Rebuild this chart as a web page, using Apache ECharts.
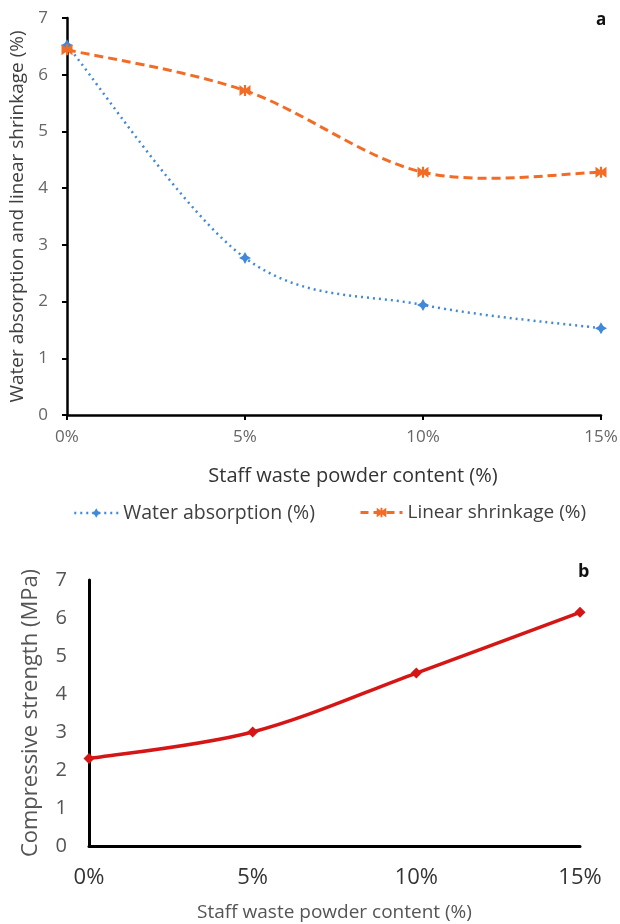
<!DOCTYPE html>
<html>
<head>
<meta charset="utf-8">
<script src="https://cdn.jsdelivr.net/npm/echarts@6/dist/echarts.min.js"></script>
<style>
html,body{margin:0;padding:0;background:#fff;}
#chart{width:620px;height:924px;}
</style>
</head>
<body>
<div id="chart"></div>
<script>
const categories = ['0%', '5%', '10%', '15%'];
const waterAbsorption = [6.52, 2.77, 1.94, 1.53];
const linearShrinkage = [6.44, 5.72, 4.28, 4.28];
const compressiveStrength = [2.3, 3.0, 4.55, 6.15];
const xTitle = 'Staff waste powder content (%)';
const yTitleA = 'Water absorption and linear shrinkage (%)';
const yTitleB = 'Compressive strength (MPa)';

const FONT = '"Open Sans"';
const blue = '#4189D8';
const orange = '#F36C25';
const red = '#D61515';
const starPath = 'path://M5,0 L6.8,3.2 L10,5 L6.8,6.8 L5,10 L3.2,6.8 L0,5 L3.2,3.2 Z';
const bowPath = 'path://M0,0 L4,3 L4,0 L6,0 L6,3 L10,0 L10,10 L6,7 L6,10 L4,10 L4,7 L0,10 Z';

// Spreadsheet-style smoothed curve (Bezier tangents = (next - prev) / 6), positioned via api.coord
function smoothCurve(values, lineStyle) {
  return function (params, api) {
    if (params.dataIndex !== 0) return null;
    const pts = values.map((v, i) => api.coord([i, v]));
    let d = 'M' + pts[0][0] + ',' + pts[0][1];
    for (let i = 0; i < pts.length - 1; i++) {
      const p0 = pts[i - 1] || pts[i];
      const p1 = pts[i];
      const p2 = pts[i + 1];
      const p3 = pts[i + 2] || pts[i + 1];
      const c1x = p1[0] + (p2[0] - p0[0]) / 6, c1y = p1[1] + (p2[1] - p0[1]) / 6;
      const c2x = p2[0] - (p3[0] - p1[0]) / 6, c2y = p2[1] - (p3[1] - p1[1]) / 6;
      d += ' C' + c1x + ',' + c1y + ' ' + c2x + ',' + c2y + ' ' + p2[0] + ',' + p2[1];
    }
    return {
      type: 'path',
      shape: {pathData: d},
      style: Object.assign({fill: 'none'}, lineStyle),
      silent: true
    };
  };
}
function pairs(values) { return values.map((v, i) => [i, v]); }

const chart = echarts.init(document.getElementById('chart'), null, {renderer: 'canvas'});
chart.setOption({
  animation: false,
  backgroundColor: '#fff',
  textStyle: {fontFamily: FONT},
  grid: [
    {left: 67, right: 19, top: 18, bottom: 509, containLabel: false, outerBoundsMode: 'none'},
    {left: 89, right: 40, top: 580, bottom: 78, containLabel: false, outerBoundsMode: 'none'}
  ],
  legend: [
    {
      left: 68, top: 498, itemWidth: 44, itemHeight: 12,
      data: [{name: 'Water absorption (%)', lineStyle: {color: blue, width: 2.5, type: [2, 4], opacity: 1}}],
      textStyle: {fontFamily: FONT, fontSize: 19.5, color: '#404040'}
    },
    {
      left: 354, top: 498, itemWidth: 42, itemHeight: 12,
      data: [{name: 'Linear shrinkage (%)', lineStyle: {color: orange, width: 3, type: [8, 5], opacity: 1}}],
      textStyle: {fontFamily: FONT, fontSize: 19, color: '#404040'}
    }
  ],
  graphic: [
    {type: 'text', left: 596, top: 12, style: {text: 'a', font: 'bold 17px ' + FONT, fill: '#111'}},
    {type: 'text', left: 578, top: 563, style: {text: 'b', font: 'bold 18px ' + FONT, fill: '#111'}}
  ],
  xAxis: [
    {
      gridIndex: 0, type: 'category', data: categories, boundaryGap: false,
      axisLine: {lineStyle: {color: '#000', width: 2.5}},
      axisTick: {show: true, inside: false, length: 5, alignWithLabel: true, lineStyle: {color: '#000', width: 2}},
      axisLabel: {color: '#666', fontSize: 17, fontFamily: FONT, margin: 14},
      name: xTitle, nameLocation: 'middle', nameGap: 51,
      nameTextStyle: {color: '#333', fontSize: 20, fontFamily: FONT, padding: [0, 0, 0, 38]}
    },
    {
      gridIndex: 1, type: 'category', data: categories, boundaryGap: false,
      axisLine: {lineStyle: {color: '#000', width: 3}},
      axisTick: {show: false},
      axisLabel: {color: '#333', fontSize: 22, fontFamily: FONT, margin: 21},
      name: xTitle, nameLocation: 'middle', nameGap: 57,
      nameTextStyle: {color: '#555', fontSize: 19, fontFamily: FONT}
    }
  ],
  yAxis: [
    {
      gridIndex: 0, type: 'value', min: 0, max: 7, interval: 1,
      splitLine: {show: false},
      axisLine: {show: true, lineStyle: {color: '#000', width: 2.5}},
      axisTick: {show: true, length: 5, lineStyle: {color: '#000', width: 2}},
      axisLabel: {color: '#666', fontSize: 17, fontFamily: FONT, margin: 19},
      name: yTitleA, nameLocation: 'middle', nameGap: 33, nameRotate: 90,
      nameTextStyle: {color: '#404040', fontSize: 19, fontFamily: FONT}
    },
    {
      gridIndex: 1, type: 'value', min: 0, max: 7, interval: 1,
      splitLine: {show: false},
      axisLine: {show: true, lineStyle: {color: '#000', width: 3}},
      axisTick: {show: false},
      axisLabel: {color: '#555', fontSize: 20, fontFamily: FONT, margin: 22},
      name: yTitleB, nameLocation: 'middle', nameGap: 47, nameRotate: 90,
      nameTextStyle: {color: '#555', fontSize: 22, fontFamily: FONT}
    }
  ],
  series: [
    {
      type: 'custom', xAxisIndex: 0, yAxisIndex: 0, z: 1, silent: true,
      data: pairs(waterAbsorption),
      renderItem: smoothCurve(waterAbsorption, {stroke: blue, lineWidth: 2.5, lineDash: [2, 4]})
    },
    {
      type: 'custom', xAxisIndex: 0, yAxisIndex: 0, z: 1, silent: true,
      data: pairs(linearShrinkage),
      renderItem: smoothCurve(linearShrinkage, {stroke: orange, lineWidth: 3, lineDash: [9, 5]})
    },
    {
      type: 'custom', xAxisIndex: 1, yAxisIndex: 1, z: 1, silent: true,
      data: pairs(compressiveStrength),
      renderItem: smoothCurve(compressiveStrength, {stroke: red, lineWidth: 3.5})
    },
    {
      name: 'Water absorption (%)', type: 'line', xAxisIndex: 0, yAxisIndex: 0, z: 3,
      data: waterAbsorption,
      symbol: starPath, symbolSize: 12,
      lineStyle: {color: blue, width: 2.5, type: [2, 4], opacity: 0},
      itemStyle: {color: blue}
    },
    {
      name: 'Linear shrinkage (%)', type: 'line', xAxisIndex: 0, yAxisIndex: 0, z: 3,
      data: linearShrinkage,
      symbol: bowPath, symbolSize: 11,
      lineStyle: {color: orange, width: 3, type: [8, 5], opacity: 0},
      itemStyle: {color: orange}
    },
    {
      name: 'Compressive strength (MPa)', type: 'line', xAxisIndex: 1, yAxisIndex: 1, z: 3,
      data: compressiveStrength,
      symbol: 'diamond', symbolSize: 11,
      lineStyle: {color: red, width: 3.5, opacity: 0},
      itemStyle: {color: red}
    }
  ]
});
</script>
</body>
</html>
